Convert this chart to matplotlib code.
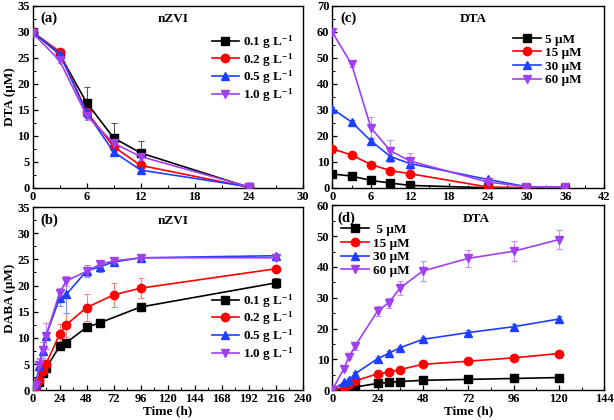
import matplotlib
matplotlib.use("Agg")
import matplotlib.pyplot as plt
from matplotlib.ticker import MultipleLocator

plt.rcParams["font.family"] = ["Liberation Serif", "DejaVu Serif"]
plt.rcParams["font.weight"] = "bold"
plt.rcParams["axes.labelweight"] = "bold"
plt.rcParams["font.size"] = 9
plt.rcParams["mathtext.fontset"] = "custom"
plt.rcParams["mathtext.rm"] = "Liberation Serif:bold"
plt.rcParams["mathtext.default"] = "rm"

colors = ["#000000", "#ff0000", "#1f3fff", "#a040f0"]
err_colors = ["#555555", "#ff8080", "#8090ff", "#c890f8"]
markers = ["s", "o", "^", "v"]
dose_labels = [r"0.1 g L$^{-1}$", r"0.2 g L$^{-1}$", r"0.5 g L$^{-1}$", r"1.0 g L$^{-1}$"]
conc_labels = [" 5 μM", "15 μM", "30 μM", "60 μM"]
conc_labels_c = ["5 μM", "15 μM", "30 μM", "60 μM"]

# (a) DTA decay, different nZVI doses
t_a = [0, 3, 6, 9, 12, 24]
a_y = [
    [30.0, 25.7, 16.4, 9.6, 6.7, 0.1],
    [30.0, 26.2, 14.6, 7.9, 4.3, 0.1],
    [30.0, 25.8, 14.5, 6.9, 3.4, 0.2],
    [29.8, 24.5, 13.9, 8.6, 6.0, 0.2],
]
a_err = [
    [0.3, 0.5, 3.0, 2.9, 2.2, 0.1],
    [0.3, 0.4, 0.8, 0.8, 0.6, 0.1],
    [0.3, 0.4, 0.8, 0.6, 0.5, 0.1],
    [0.3, 0.5, 0.9, 0.8, 0.7, 0.1],
]

# (b) DABA formation, different nZVI doses
t_b = [
    [0, 3, 6, 9, 12, 24, 30, 48, 60, 96, 216],
    [0, 3, 6, 9, 12, 24, 30, 48, 72, 96, 216],
    [0, 3, 6, 9, 12, 24, 30, 48, 60, 72, 96, 216],
    [0, 3, 6, 9, 12, 24, 30, 48, 60, 72, 96, 216],
]
b_y = [
    [0.0, 0.5, 1.5, 3.2, 4.2, 8.4, 9.1, 12.0, 12.9, 15.9, 20.5],
    [0.0, 0.6, 2.0, 3.6, 5.0, 10.7, 12.5, 15.8, 18.2, 19.5, 23.2],
    [0.0, 1.1, 4.7, 7.5, 10.4, 17.6, 18.3, 22.8, 23.6, 24.5, 25.3, 25.7],
    [0.0, 1.0, 4.8, 7.7, 10.4, 18.6, 20.9, 22.7, 24.1, 24.7, 25.3, 25.3],
]
b_err = [
    [0.1, 0.2, 0.3, 0.3, 0.4, 0.5, 0.5, 0.5, 0.5, 0.5, 0.9],
    [0.1, 0.3, 0.5, 0.6, 0.8, 2.0, 2.3, 2.5, 2.3, 1.9, 0.4],
    [0.1, 0.5, 1.5, 1.8, 2.5, 1.5, 3.5, 1.2, 1.0, 0.8, 0.5, 0.3],
    [0.1, 0.5, 1.2, 1.5, 2.5, 1.0, 0.9, 0.8, 0.6, 0.5, 0.4, 0.3],
]

# (c) DTA decay, different initial DTA
t_c = [0, 3, 6, 9, 12, 24, 30, 36]
c_y = [
    [5.3, 4.5, 2.8, 1.8, 0.9, 0.0, 0.0, 0.0],
    [15.0, 12.6, 8.9, 6.6, 5.4, 0.3, 0.0, 0.0],
    [30.4, 25.3, 18.0, 12.0, 9.3, 3.2, 0.4, 0.3],
    [60.0, 47.5, 23.0, 14.2, 10.3, 2.2, 0.4, 0.3],
]
c_err = [
    [0.3, 0.3, 0.3, 0.3, 0.2, 0.1, 0.1, 0.1],
    [0.5, 0.5, 0.5, 0.5, 0.5, 0.2, 0.1, 0.1],
    [0.8, 0.8, 1.0, 1.0, 0.8, 0.5, 0.2, 0.2],
    [1.0, 1.0, 4.3, 4.2, 3.2, 0.5, 0.2, 0.2],
]

# (d) DABA formation, different initial DTA
t_d = [0, 6, 9, 12, 24, 30, 36, 48, 72, 96, 120]
d_y = [
    [0.0, 0.3, 0.5, 1.0, 2.2, 2.5, 2.8, 3.2, 3.5, 3.8, 4.1],
    [0.0, 0.9, 1.9, 3.0, 5.3, 5.9, 6.7, 8.4, 9.4, 10.5, 11.9],
    [0.0, 2.5, 3.4, 5.3, 10.2, 12.0, 13.8, 16.5, 18.7, 20.6, 23.1],
    [0.0, 6.8, 10.9, 14.2, 25.7, 28.4, 33.2, 38.7, 42.8, 45.1, 48.9],
]
d_err = [
    [0.0, 0.1, 0.1, 0.1, 0.2, 0.2, 0.2, 0.2, 0.2, 0.2, 0.2],
    [0.0, 0.2, 0.2, 0.3, 0.3, 0.3, 0.3, 0.4, 0.4, 0.4, 0.4],
    [0.0, 0.3, 0.4, 0.5, 0.6, 0.6, 0.7, 0.8, 0.8, 0.8, 0.9],
    [0.0, 0.5, 0.8, 1.0, 1.6, 1.6, 2.3, 3.3, 2.7, 3.3, 3.0],
]

fig = plt.figure(figsize=(6.14, 4.2), dpi=100)
ax_a = fig.add_axes([0.053, 0.553, 0.440, 0.433])
ax_c = fig.add_axes([0.541, 0.553, 0.443, 0.433])
ax_b = fig.add_axes([0.053, 0.071, 0.440, 0.436])
ax_d = fig.add_axes([0.541, 0.071, 0.443, 0.440])


def draw(ax, xs, ys, errs, labels, shared_x=True):
    for i in range(4):
        x = xs if shared_x else xs[i]
        ax.errorbar(x, ys[i], yerr=errs[i], fmt="none", ecolor=err_colors[i],
                    elinewidth=0.8, capsize=2, capthick=0.8, zorder=2)
        ax.plot(x, ys[i], color=colors[i], marker=markers[i], markersize=6,
                linewidth=1.2, label=labels[i], zorder=3)
    for sp in ax.spines.values():
        sp.set_linewidth(1.0)
    ax.tick_params(which="both", direction="in", top=False, right=False)
    ax.tick_params(which="major", length=3.5, width=0.9, pad=2, labelsize=9)
    ax.tick_params(which="minor", length=2, width=0.7)
    for lbl in ax.get_xticklabels() + ax.get_yticklabels():
        lbl.set_fontweight("bold")


leg_kw = dict(frameon=False, handlelength=2.1, handletextpad=0.3,
              borderpad=0.2, fontsize=9.5)

draw(ax_a, t_a, a_y, a_err, dose_labels)
ax_a.set_xlim(0, 30)
ax_a.set_ylim(0, 35)
ax_a.xaxis.set_major_locator(MultipleLocator(6))
ax_a.xaxis.set_minor_locator(MultipleLocator(3))
ax_a.yaxis.set_major_locator(MultipleLocator(5))
ax_a.yaxis.set_minor_locator(MultipleLocator(2.5))
ax_a.set_ylabel("DTA (μM)", labelpad=1, fontsize=9.5)
ax_a.text(0.03, 0.91, "(a)", transform=ax_a.transAxes, fontsize=10.5)
ax_a.text(0.52, 0.91, "nZVI", transform=ax_a.transAxes, ha="center", fontsize=9.5)
ax_a.legend(loc="upper right", bbox_to_anchor=(1.0, 0.9), labelspacing=0.0, **leg_kw)

draw(ax_b, t_b, b_y, b_err, dose_labels, shared_x=False)
ax_b.set_xlim(0, 240)
ax_b.set_ylim(0, 35)
ax_b.xaxis.set_major_locator(MultipleLocator(24))
ax_b.xaxis.set_minor_locator(MultipleLocator(12))
ax_b.yaxis.set_major_locator(MultipleLocator(5))
ax_b.yaxis.set_minor_locator(MultipleLocator(2.5))
ax_b.set_ylabel("DABA (μM)", labelpad=1, fontsize=9.5)
ax_b.set_xlabel("Time (h)", labelpad=0, fontsize=9.5)
ax_b.text(0.03, 0.91, "(b)", transform=ax_b.transAxes, fontsize=10.5)
ax_b.text(0.52, 0.91, "nZVI", transform=ax_b.transAxes, ha="center", fontsize=9.5)
ax_b.legend(loc="lower right", bbox_to_anchor=(1.0, 0.1), labelspacing=0.0, **leg_kw)

draw(ax_c, t_c, c_y, c_err, conc_labels_c)
ax_c.set_xlim(0, 42)
ax_c.set_ylim(0, 70)
ax_c.xaxis.set_major_locator(MultipleLocator(6))
ax_c.xaxis.set_minor_locator(MultipleLocator(3))
ax_c.yaxis.set_major_locator(MultipleLocator(10))
ax_c.yaxis.set_minor_locator(MultipleLocator(5))
ax_c.text(0.03, 0.91, "(c)", transform=ax_c.transAxes, fontsize=10.5)
ax_c.text(0.52, 0.91, "DTA", transform=ax_c.transAxes, ha="center", fontsize=9.5)
ax_c.legend(loc="upper right", bbox_to_anchor=(0.95, 0.9), labelspacing=0.1, **leg_kw)

draw(ax_d, t_d, d_y, d_err, conc_labels)
ax_d.set_xlim(0, 144)
ax_d.set_ylim(0, 60)
ax_d.xaxis.set_major_locator(MultipleLocator(24))
ax_d.xaxis.set_minor_locator(MultipleLocator(12))
ax_d.yaxis.set_major_locator(MultipleLocator(10))
ax_d.yaxis.set_minor_locator(MultipleLocator(5))
ax_d.set_xlabel("Time (h)", labelpad=0, fontsize=9.5)
ax_d.text(0.02, 0.91, "(d)", transform=ax_d.transAxes, fontsize=10.5)
ax_d.text(0.53, 0.91, "DTA", transform=ax_d.transAxes, ha="center", fontsize=9.5)
ax_d.legend(loc="upper left", bbox_to_anchor=(0.0, 0.95), labelspacing=0.1, **leg_kw)

fig.savefig("out.png", dpi=100)
